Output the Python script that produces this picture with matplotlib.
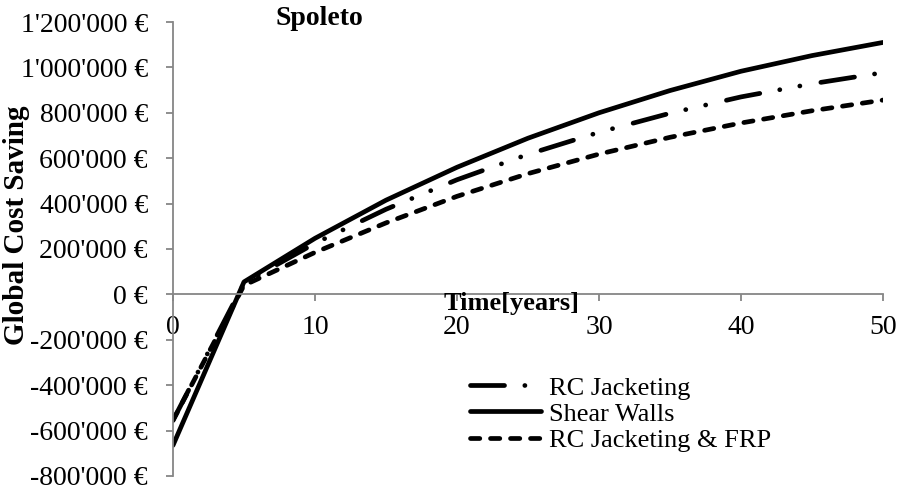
import numpy as np
import matplotlib
matplotlib.use("Agg")
import matplotlib.pyplot as plt
from matplotlib.ticker import FuncFormatter

# global cost saving over time for the three retrofit options
years = [0, 5, 10, 15, 20, 25, 30, 35, 40, 45, 50]
rc_jacketing = [-555000, 50000, 225000, 375000, 505000, 617000, 714000, 798000, 870000, 928000, 977000]
shear_walls = [-665000, 55000, 247000, 415000, 560000, 688000, 800000, 898000, 983000, 1052000, 1110000]
rc_jacketing_frp = [-555000, 40000, 185000, 315000, 432000, 532000, 618000, 692000, 755000, 809000, 856000]

y_ticks = [-800000, -600000, -400000, -200000, 0, 200000, 400000, 600000, 800000, 1000000, 1200000]
x_ticks = [0, 10, 20, 30, 40, 50]

plt.rcParams['font.family'] = ['Liberation Serif', 'DejaVu Serif']
plt.rcParams['lines.scale_dashes'] = False


def euro(v, pos):
    return f"{v:,.0f}".replace(",", "'") + " €"


def main():
    fig = plt.figure(figsize=(9.01, 4.90), dpi=100)
    ax = fig.add_axes([0.192, 0.0286, 0.788, 0.9265])

    lw = 3.4
    ax.plot(years, rc_jacketing, color="black", lw=lw, label="RC Jacketing",
            dashes=(24.5, 14.6, 0.1, 14.6, 0.1, 15.3),
            dash_capstyle="round", solid_capstyle="round")
    ax.plot(years, shear_walls, color="black", lw=lw, label="Shear Walls",
            solid_capstyle="round")
    ax.plot(years, rc_jacketing_frp, color="black", lw=lw, label="RC Jacketing & FRP",
            dashes=(6.7, 7.7), dash_capstyle="round")

    ax.set_xlim(0, 50)
    ax.set_ylim(-800000, 1200000)
    ax.set_xticks(x_ticks)
    ax.set_yticks(y_ticks)
    ax.yaxis.set_major_formatter(FuncFormatter(euro))

    # axis lines in Excel grey, x axis drawn through zero
    for side in ("top", "right"):
        ax.spines[side].set_visible(False)
    ax.spines["bottom"].set_position(("data", 0))
    for side in ("left", "bottom"):
        ax.spines[side].set_color("#868686")
        ax.spines[side].set_linewidth(1.3)
    ax.tick_params(axis="both", colors="#868686", labelcolor="black",
                   labelsize=20, length=5, width=1.3, direction="out")
    ax.tick_params(axis="y", pad=13)
    ax.tick_params(axis="x", pad=10)

    ax.text(0.477, 0.379, "Time[years]", transform=ax.transAxes,
            fontsize=19, fontweight="bold", ha="center", va="center")
    fig.text(0.018, 0.541, "Global Cost Saving", rotation=90,
             fontsize=21, fontweight="bold", ha="center", va="center")
    fig.text(0.355, 0.962, "Spoleto", fontsize=20, fontweight="bold",
             ha="center", va="center")

    ax.legend(loc="upper left", bbox_to_anchor=(0.418, 0.22), frameon=False,
              fontsize=19, handlelength=2.7, handletextpad=0.3,
              labelspacing=0.1, borderpad=0, borderaxespad=0)

    fig.savefig("out.png", dpi=100)


if __name__ == '__main__':
    main()
